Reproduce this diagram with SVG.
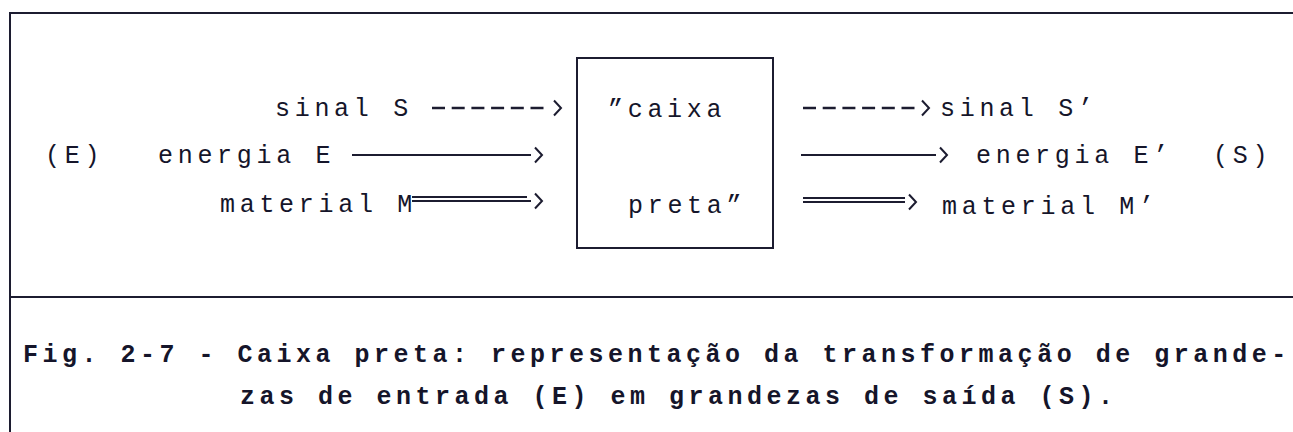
<svg xmlns="http://www.w3.org/2000/svg" width="1293" height="432" viewBox="0 0 1293 432">
<style>
.t{font-family:"Liberation Mono","DejaVu Sans Mono",monospace;font-size:25px;letter-spacing:4.7px;fill:#15152a}
.c{font-family:"Liberation Mono","DejaVu Sans Mono",monospace;font-size:25px;font-weight:bold;letter-spacing:4.5px;fill:#15152a}
.frame{stroke:#1c1c30;stroke-width:2;fill:none}
.ln{stroke:#1c1c30;stroke-width:1.8;fill:none}
.dash{stroke:#1c1c30;stroke-width:2.4;stroke-dasharray:13 6.7;fill:none}
</style>
<defs>
<marker id="chev" markerUnits="userSpaceOnUse" markerWidth="20" markerHeight="20" viewBox="0 0 20 20" refX="-4" refY="10" orient="auto" overflow="visible">
<path d="M0,2.5 L7,10 L0,17.5" fill="none" stroke="#1c1c30" stroke-width="2"/>
</marker>
</defs>
<rect width="1293" height="432" fill="#fff"/>
<g id="frame">
<path class="frame" d="M10,432 V13 H1293"/>
<path class="frame" d="M10,297 H1293"/>
</g>
<g id="blackbox">
<rect class="frame" x="577" y="58" width="196" height="190"/>
<text class="t" x="608" y="117">”caixa</text>
<text class="t" x="628" y="213">preta”</text>
</g>
<g id="inputs">
<text class="t" x="275" y="116">sinal S</text>
<text class="t" x="45" y="163">(E)</text>
<text class="t" x="158" y="163">energia E</text>
<text class="t" x="220" y="212">material M</text>
</g>
<g id="outputs">
<text class="t" x="940" y="116">sinal S’</text>
<text class="t" x="976" y="163">energia E’</text>
<text class="t" x="1213" y="163">(S)</text>
<text class="t" x="942" y="214">material M’</text>
</g>
<g id="connectors">
<path class="dash" d="M432,108 H550" marker-end="url(#chev)"/>
<path class="ln" d="M352,155 H531" marker-end="url(#chev)"/>
<path class="ln" d="M412,197 H527"/>
<path class="ln" d="M412,201 H531" marker-end="url(#chev)"/>
<path class="dash" d="M803,108 H918" marker-end="url(#chev)"/>
<path class="ln" d="M801,155 H936" marker-end="url(#chev)"/>
<path class="ln" d="M803,198 H905"/>
<path class="ln" d="M803,202 H905" marker-end="url(#chev)"/>
</g>
<g id="caption">
<text class="c" x="23" y="362">Fig. 2-7 - Caixa preta: representação da transformação de grande-</text>
<text class="c" x="240" y="404">zas de entrada (E) em grandezas de saída (S).</text>
</g>
</svg>
